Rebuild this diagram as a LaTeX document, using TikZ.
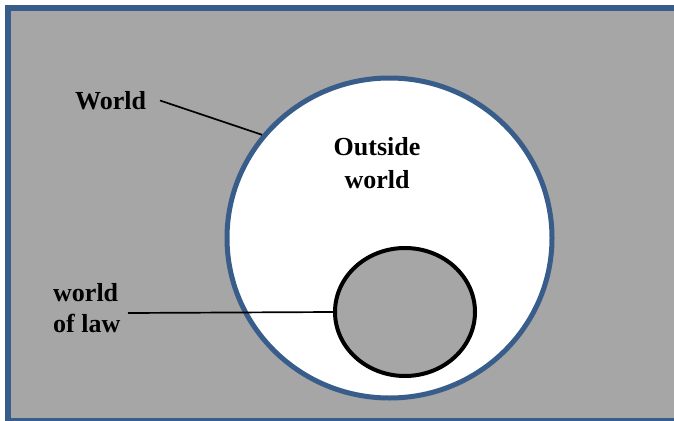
\documentclass[tikz,border=0pt]{standalone}
\usepackage{fontspec}
\setmainfont{Liberation Serif}
\usetikzlibrary{shapes.geometric}
\definecolor{bgray}{HTML}{A6A6A6}
\definecolor{wblue}{HTML}{385D8A}
\tikzset{
  lbl/.style={font=\bfseries\fontsize{26}{33}\selectfont, inner sep=0pt, text=black},
  conn/.style={draw=black, line width=1.7pt},
}
\begin{document}
\begin{tikzpicture}[x=1pt,y=-1pt]
\useasboundingbox (0,0) rectangle (674,420);
\clip (0,0) rectangle (674,420);
\fill[white] (0,0) rectangle (674,420);
\fill[bgray] (8,8) rectangle (690,425);
\draw[wblue, line width=6pt] (8,8) rectangle (690,420.5);
\fill[bgray] (11,11) rectangle (690,417.5);
% big world ellipse
\node[ellipse, draw=wblue, fill=white, line width=5pt, inner sep=0pt,
      minimum width=325pt, minimum height=320pt] (big) at (389.5,238) {};
% small world of law
\node[ellipse, draw=black, fill=bgray, line width=4pt, inner sep=0pt,
      minimum width=140pt, minimum height=128pt] (small) at (405,312) {};
% labels
\node[lbl, anchor=base west] (world) at (75,109) {World};
\node[lbl, align=center, anchor=north] (outside) at (377,137.5) {Outside\\world};
\node[lbl, font=\bfseries\fontsize{26}{31}\selectfont, align=left, anchor=north west] (law) at (53,283) {world\\of law};
% connectors
\coordinate (wstart) at (160,100.5);
\coordinate (lstart) at (128,313);
\draw[conn] (wstart) -- (big.141);
\draw[conn] (lstart) -- (small.west);
\end{tikzpicture}
\end{document}
